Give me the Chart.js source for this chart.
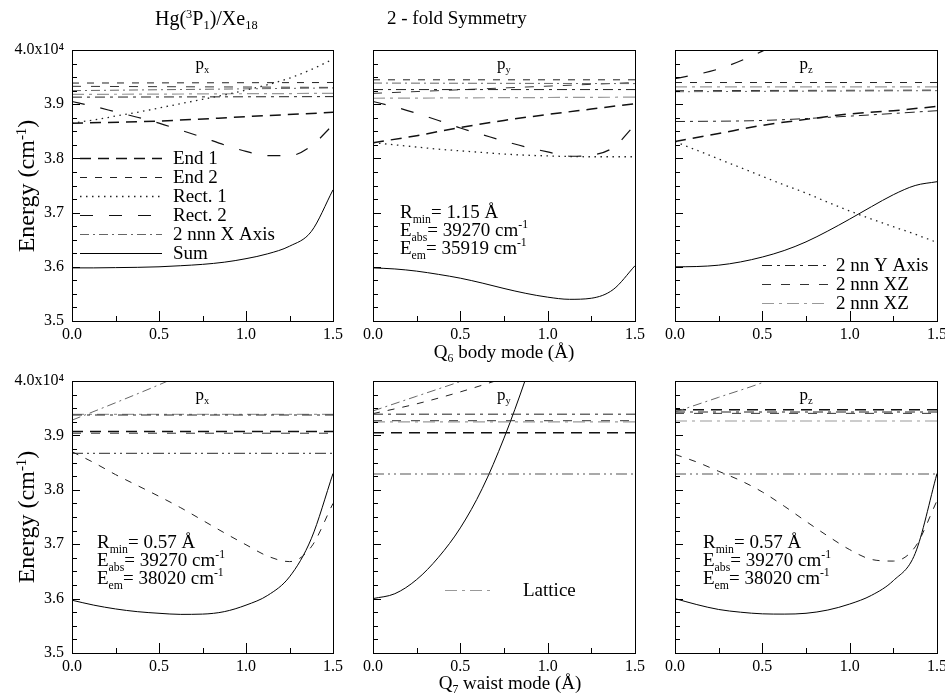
<!DOCTYPE html>
<html>
<head>
<meta charset="utf-8">
<script src="https://cdn.jsdelivr.net/npm/chart.js@4.4.1/dist/chart.umd.min.js"></script>
<style>
  html, body { margin: 0; padding: 0; background: #fff; }
  #wrap { position: relative; width: 945px; height: 698px; overflow: hidden;
          font-family: 'Liberation Serif', 'Times New Roman', serif; color: #000; }
  #wrap canvas { position: absolute; left: 0; top: 0; }
  .t { position: absolute; white-space: nowrap; font-size: 19px; line-height: 1; }
  .t sup, .t sub { font-size: 0.62em; line-height: 0; position: relative; vertical-align: baseline; }
  .t sup { top: -0.55em; }
  .t sub { top: 0.3em; }
  .yl { transform: translate(-50%, -50%) rotate(-90deg); }
</style>
</head>
<body>
<div id="wrap">
  <canvas id="c0" width="945" height="698"></canvas>
  <canvas id="c1" width="945" height="698"></canvas>
  <canvas id="c2" width="945" height="698"></canvas>
  <canvas id="c3" width="945" height="698"></canvas>
  <canvas id="c4" width="945" height="698"></canvas>
  <canvas id="c5" width="945" height="698"></canvas>
  <div class="t" style="left:155px;top:8px;font-size:20px;">Hg(<sup>3</sup>P<sub>1</sub>)/Xe<sub>18</sub></div>
  <div class="t" style="left:387px;top:8px;font-size:19px;">2 - fold Symmetry</div>
  <div class="t" style="left:504px;top:342px;transform:translateX(-50%);">Q<sub>6</sub> body mode (Å)</div>
  <div class="t" style="left:510px;top:673px;transform:translateX(-50%);">Q<sub>7</sub> waist mode (Å)</div>
  <div class="t yl" style="left:26px;top:186px;font-size:24px;">Energy (cm<sup>-1</sup>)</div>
  <div class="t yl" style="left:26px;top:517px;font-size:24px;">Energy (cm<sup>-1</sup>)</div>
</div>
<script>
// ---- displacement grids (Å) ----
const Q13 = [0, 0.125, 0.25, 0.375, 0.5, 0.625, 0.75, 0.875, 1.0, 1.125, 1.25, 1.375, 1.5];
const Q7  = [0, 0.25, 0.5, 0.75, 1.0, 1.25, 1.5];
const Q4  = [0, 0.5, 1.0, 1.5];
const QE  = [0, 1.5];

// ---- axis ticks ----
const xTickValues = [0, 0.5, 1.0, 1.5];
const yTickValues = [35000, 36000, 37000, 38000, 39000, 40000];
const yTickLabels = ['3.5', '3.6', '3.7', '3.8', '3.9', '4.0x10\u2074'];

// ---- Q6 body mode, p_x (energies in cm^-1) ----
const q6x_sum   = [35980, 35980, 35985, 35990, 36000, 36020, 36045, 36085, 36150, 36240, 36380, 36650, 37420];
const q6x_rect1 = [38650, 38710, 38780, 38850, 38930, 39010, 39090, 39170, 39260, 39360, 39480, 39640, 39830];
const q6x_rect2 = [39050, 38960, 38860, 38760, 38650, 38520, 38390, 38250, 38130, 38050, 38050, 38230, 38620];
const q6x_end1  = [38650, 38690, 38770, 38850];
const q6x_end2  = [39390, 39400];
const q6x_nnnX  = [39250, 39300];
const q6x_nnY   = [39130, 39140];
const q6x_xzA   = [39330, 39310];
const q6x_xzB   = [39180, 39200];

// ---- Q6 body mode, p_y ----
const q6y_sum   = [35980, 35960, 35920, 35860, 35790, 35700, 35600, 35510, 35440, 35400, 35420, 35580, 36020];
const q6y_rect1 = [38290, 38250, 38210, 38170, 38140, 38110, 38080, 38060, 38045, 38035, 38030, 38030, 38030];
const q6y_rect2 = [39050, 38950, 38830, 38700, 38560, 38440, 38320, 38210, 38120, 38040, 38060, 38200, 38620];
const q6y_end1  = [38290, 38420, 38570, 38700, 38810, 38910, 39010];
const q6y_end2  = [39450, 39450];
const q6y_nnnX  = [39390, 39380];
const q6y_nnY   = [39270, 39270];
const q6y_xzA   = [39200, 39400];
const q6y_xzB   = [39110, 39130];

// ---- Q6 body mode, p_z ----
const q6z_sum   = [36000, 36005, 36030, 36090, 36180, 36300, 36460, 36660, 36880, 37110, 37330, 37500, 37570];
const q6z_rect1 = [38310, 38150, 37990, 37830, 37670, 37510, 37360, 37190, 37030, 36880, 36740, 36600, 36450];
const q6z_end1  = [38310, 38460, 38610, 38720, 38820, 38880, 38960];
const q6z_rect2 = [39470, 39650, 39980, 40400, 40900, 41400, 41900];
const q6z_nnY   = [38680, 38700, 38780, 38880];
const q6z_end2  = [39400, 39400];
const q6z_nnnX  = [39230, 39250];
const q6z_xzA   = [39250, 39260];
const q6z_xzB   = [39320, 39320];

// ---- Q7 waist mode, p_x ----
const q7x_sum   = [35970, 35880, 35810, 35760, 35730, 35710, 35715, 35760, 35880, 36060, 36400, 37100, 38300];
const q7x_end2  = [38700, 38500, 38280, 38080, 37880, 37670, 37440, 37210, 36990, 36780, 36680, 36950, 37750];
const q7x_nnnX  = [39280, 39600, 39930, 40280, 40650, 41000, 41400];
const q7x_nnY   = [39375, 39375];
const q7x_xzB   = [39385, 39385];
const q7x_end1  = [39070, 39070];
const q7x_xzA   = [39040, 39040];
const q7x_lat   = [38670, 38670];

// ---- Q7 waist mode, p_y ----
const q7y_sum   = [36000, 36090, 36350, 36760, 37300, 38020, 38950, 40050, 41300, 42700, 44200, 45800, 47500];
const q7y_nnnX  = [39450, 39720, 39990, 40260, 40540, 40820, 41100];
const q7y_end2  = [39400, 39580, 39800, 40050, 40300, 40550, 40800];
const q7y_nnY   = [39390, 39390];
const q7y_xzB   = [39250, 39250];
const q7y_end1  = [39050, 39050];
const q7y_xzA   = [39270, 39270];
const q7y_lat   = [38290, 38290];

// ---- Q7 waist mode, p_z ----
const q7z_sum   = [36000, 35890, 35800, 35750, 35720, 35715, 35730, 35790, 35900, 36060, 36330, 36830, 38300];
const q7z_end2  = [38650, 38510, 38340, 38170, 37960, 37700, 37420, 37150, 36900, 36720, 36690, 36950, 37800];
const q7z_nnnX  = [39430, 39700, 39970, 40300, 40600, 40900, 41200];
const q7z_end1  = [39470, 39470];
const q7z_nnY   = [39430, 39430];
const q7z_xzA   = [39405, 39405];
const q7z_xzB   = [39265, 39265];
const q7z_lat   = [38290, 38290];

// ---- line styles per contribution ----
const STY = {
  end1:  { color: '#111', width: 1.5, dash: [11, 7] },
  end2:  { color: '#222', width: 1,   dash: [7, 8] },
  rect1: { color: '#222', width: 1.3, dash: [1.5, 4.5] },
  rect2: { color: '#111', width: 1.2, dash: [13, 16] },
  nnnX:  { color: '#666', width: 1,   dash: [9, 4, 2, 4] },
  sum:   { color: '#000', width: 1,   dash: [] },
  nnY:   { color: '#222', width: 1,   dash: [10, 5, 3, 5] },
  xzA:   { color: '#333', width: 1,   dash: [9, 10] },
  xzB:   { color: '#999', width: 1.2, dash: [12, 5, 3, 5] },
  lat:   { color: '#555', width: 1.2, dash: [11, 4, 2, 4, 2, 4] }
};

const FONT = '"Liberation Serif", "Times New Roman", serif';
const S = (k, x, y) => ({ k, x, y });
const NOTE_SIZE = 19;
const LEG_SIZE = 19;

const panels = [
  { id: 'c0', rect: [72, 50, 333, 321], yLabels: true, label: ['p', 'x'],
    series: [S('rect1', Q13, q6x_rect1), S('rect2', Q13, q6x_rect2), S('end1', Q4, q6x_end1),
             S('end2', QE, q6x_end2), S('nnnX', QE, q6x_nnnX), S('nnY', QE, q6x_nnY),
             S('xzA', QE, q6x_xzA), S('xzB', QE, q6x_xzB), S('sum', Q13, q6x_sum)],
    legend: { x1: 80, x2: 162, tx: 173, y0: 158, dy: 19,
              items: [['end1', 'End 1'], ['end2', 'End 2'], ['rect1', 'Rect. 1'], ['rect2', 'Rect. 2'], ['nnnX', '2 nnn X Axis'], ['sum', 'Sum']] } },
  { id: 'c1', rect: [373, 50, 635, 321], yLabels: false, label: ['p', 'y'],
    series: [S('rect1', Q13, q6y_rect1), S('rect2', Q13, q6y_rect2), S('end1', Q7, q6y_end1),
             S('end2', QE, q6y_end2), S('nnnX', QE, q6y_nnnX), S('nnY', QE, q6y_nnY),
             S('xzA', QE, q6y_xzA), S('xzB', QE, q6y_xzB), S('sum', Q13, q6y_sum)],
    note: { x: 400, y0: 212, dy: 18,
            lines: [[['R'], ['min', 'sub'], ['= 1.15 Å']], [['E'], ['abs', 'sub'], ['= 39270 cm'], ['-1', 'sup']], [['E'], ['em', 'sub'], ['= 35919 cm'], ['-1', 'sup']]] } },
  { id: 'c2', rect: [675, 50, 937, 321], yLabels: false, label: ['p', 'z'],
    series: [S('rect1', Q13, q6z_rect1), S('end1', Q7, q6z_end1), S('rect2', Q7, q6z_rect2),
             S('nnY', Q4, q6z_nnY), S('end2', QE, q6z_end2), S('nnnX', QE, q6z_nnnX),
             S('xzA', QE, q6z_xzA), S('xzB', QE, q6z_xzB), S('sum', Q13, q6z_sum)],
    legend: { x1: 762, x2: 828, tx: 836, y0: 265, dy: 19,
              items: [['nnY', '2 nn Y Axis'], ['xzA', '2 nnn XZ'], ['xzB', '2 nnn XZ']] } },
  { id: 'c3', rect: [72, 381, 333, 653], yLabels: true, label: ['p', 'x'],
    series: [S('end2', Q13, q7x_end2), S('nnnX', Q7, q7x_nnnX), S('nnY', QE, q7x_nnY),
             S('xzB', QE, q7x_xzB), S('end1', QE, q7x_end1), S('xzA', QE, q7x_xzA),
             S('lat', QE, q7x_lat), S('sum', Q13, q7x_sum)],
    note: { x: 97, y0: 542, dy: 18,
            lines: [[['R'], ['min', 'sub'], ['= 0.57 Å']], [['E'], ['abs', 'sub'], ['= 39270 cm'], ['-1', 'sup']], [['E'], ['em', 'sub'], ['= 38020 cm'], ['-1', 'sup']]] } },
  { id: 'c4', rect: [373, 381, 635, 653], yLabels: false, label: ['p', 'y'],
    series: [S('nnnX', Q7, q7y_nnnX), S('end2', Q7, q7y_end2), S('nnY', QE, q7y_nnY),
             S('xzB', QE, q7y_xzB), S('end1', QE, q7y_end1), S('xzA', QE, q7y_xzA),
             S('lat', QE, q7y_lat), S('sum', Q13, q7y_sum)],
    legend: { x1: 445, x2: 495, tx: 523, y0: 590, dy: 19, items: [['xzB', 'Lattice']] } },
  { id: 'c5', rect: [675, 381, 937, 653], yLabels: false, label: ['p', 'z'],
    series: [S('end2', Q13, q7z_end2), S('nnnX', Q7, q7z_nnnX), S('end1', QE, q7z_end1),
             S('nnY', QE, q7z_nnY), S('xzA', QE, q7z_xzA), S('xzB', QE, q7z_xzB),
             S('lat', QE, q7z_lat), S('sum', Q13, q7z_sum)],
    note: { x: 703, y0: 542, dy: 18,
            lines: [[['R'], ['min', 'sub'], ['= 0.57 Å']], [['E'], ['abs', 'sub'], ['= 39270 cm'], ['-1', 'sup']], [['E'], ['em', 'sub'], ['= 38020 cm'], ['-1', 'sup']]] } }
];

// text with sub/superscripts, y is the vertical centre of the line
function richText(ctx, x, yc, parts, size) {
  const base = yc + size * 0.33;
  ctx.textBaseline = 'alphabetic';
  ctx.textAlign = 'left';
  for (const [t, kind] of parts) {
    let fs = size, dy = 0;
    if (kind === 'sub') { fs = size * 0.62; dy = size * 0.26; }
    if (kind === 'sup') { fs = size * 0.62; dy = -size * 0.42; }
    ctx.font = fs + 'px ' + FONT;
    ctx.fillText(t, x, base + dy);
    x += ctx.measureText(t).width;
  }
  return x;
}

// frame, inward tick marks, panel label, legend and notes
const decorPlugin = {
  id: 'decor',
  afterDatasetsDraw(chart) {
    const p = chart.config.options.plugins.decor.panel;
    const { ctx, chartArea: a } = chart;
    const xs = chart.scales.x, ys = chart.scales.y;
    ctx.save();
    ctx.strokeStyle = '#000';
    ctx.lineWidth = 1;
    ctx.setLineDash([]);
    ctx.strokeRect(Math.round(a.left) + 0.5, Math.round(a.top) + 0.5,
                   Math.round(a.right - a.left), Math.round(a.bottom - a.top));
    ctx.beginPath();
    for (let v = 35000; v <= 40000; v += 250) {
      const y = Math.round(ys.getPixelForValue(v)) + 0.5;
      const len = v % 1000 === 0 ? 8 : 5;
      ctx.moveTo(a.left, y); ctx.lineTo(a.left + len, y);
    }
    for (let i = 1; i < 6; i++) {
      const v = i * 0.25;
      const x = Math.round(xs.getPixelForValue(v)) + 0.5;
      const len = i % 2 === 0 ? 10 : 5;
      ctx.moveTo(x, a.bottom); ctx.lineTo(x, a.bottom - len);
    }
    ctx.stroke();

    ctx.fillStyle = '#000';
    const cx = (a.left + a.right) / 2;
    ctx.font = '17px ' + FONT;
    const w = ctx.measureText(p.label[0]).width;
    ctx.font = (17 * 0.62) + 'px ' + FONT;
    const w2 = ctx.measureText(p.label[1]).width;
    richText(ctx, cx - (w + w2) / 2, a.top + 13, [[p.label[0]], [p.label[1], 'sub']], 17);

    if (p.legend) {
      const L = p.legend;
      L.items.forEach(([k, txt], i) => {
        const st = STY[k];
        const y = Math.round(L.y0 + i * L.dy) + 0.5;
        ctx.strokeStyle = st.color;
        ctx.lineWidth = st.width;
        ctx.setLineDash(st.dash);
        ctx.beginPath(); ctx.moveTo(L.x1, y); ctx.lineTo(L.x2, y); ctx.stroke();
        ctx.setLineDash([]);
        ctx.fillStyle = '#000';
        richText(ctx, L.tx, L.y0 + i * L.dy, [[txt]], LEG_SIZE);
      });
    }
    if (p.note) {
      const N = p.note;
      N.lines.forEach((parts, i) => richText(ctx, N.x, N.y0 + i * N.dy, parts, NOTE_SIZE));
    }
    ctx.restore();
  }
};

for (const p of panels) {
  const [L, T, R, B] = p.rect;
  const yW = p.yLabels ? 60 : 0;
  const xH = 24;
  new Chart(document.getElementById(p.id), {
    type: 'line',
    data: {
      datasets: p.series.map(s => {
        const st = STY[s.k];
        return {
          data: s.x.map((x, i) => ({ x, y: s.y[i] })),
          borderColor: st.color, borderWidth: st.width, borderDash: st.dash,
          pointRadius: 0, fill: false, cubicInterpolationMode: 'monotone'
        };
      })
    },
    options: {
      responsive: false, animation: false, devicePixelRatio: 1,
      events: [],
      layout: { padding: { left: L - yW, top: T, right: 945 - R, bottom: 698 - B - xH } },
      plugins: { legend: { display: false }, tooltip: { enabled: false }, decor: { panel: p } },
      scales: {
        x: {
          type: 'linear', min: 0, max: 1.5,
          afterFit(s) { s.height = xH; s.paddingLeft = 0; s.paddingRight = 0; },
          afterBuildTicks(s) { s.ticks = xTickValues.map(v => ({ value: v })); },
          grid: { display: false, drawTicks: false }, border: { display: false },
          ticks: { callback: v => v.toFixed(1), color: '#000', padding: 4, maxRotation: 0, autoSkip: false,
                   font: { family: FONT, size: 16 } }
        },
        y: {
          type: 'linear', min: 35000, max: 40000,
          afterFit(s) { s.width = yW; s.paddingTop = 0; s.paddingBottom = 0; },
          afterBuildTicks(s) { s.ticks = yTickValues.map(v => ({ value: v })); },
          grid: { display: false, drawTicks: false }, border: { display: false },
          ticks: { display: p.yLabels, color: '#000', padding: 8, autoSkip: false,
                   callback: v => yTickLabels[yTickValues.indexOf(v)],
                   font: { family: FONT, size: 16 } }
        }
      }
    },
    plugins: [decorPlugin]
  });
}
</script>
</body>
</html>
